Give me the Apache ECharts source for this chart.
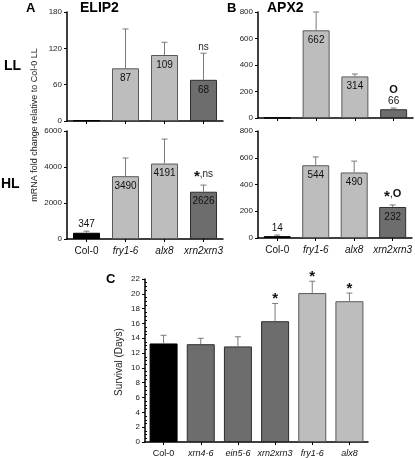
<!DOCTYPE html>
<html><head><meta charset="utf-8">
<script src="https://cdn.jsdelivr.net/npm/echarts@6/dist/echarts.min.js"></script>
<style>html,body{margin:0;padding:0;background:#fff}#c{width:415px;height:458px}</style>
</head><body><div id="c"></div>
<script>
// ---- data ----
const categoriesAB = ['Col-0', 'fry1-6', 'alx8', 'xrn2xrn3'];
const elip2LL = [1, 87, 109, 68];
const elip2LLsd = [0, 65, 21, 44];
const elip2LLnote = ['', '', '', 'ns'];
const elip2HL = [347, 3490, 4191, 2626];
const elip2HLsd = [90, 1010, 1360, 370];
const elip2HLnote = ['', '', '', '*,ns'];
const apx2LL = [1, 662, 314, 66];
const apx2LLsd = [0, 138, 18, 9];
const apx2LLnote = ['', '', '', 'O'];
const apx2HL = [14, 544, 490, 232];
const apx2HLsd = [8, 62, 85, 15];
const apx2HLnote = ['', '', '', '*,O'];
const categoriesC = ['Col-0', 'xrn4-6', 'ein5-6', 'xrn2xrn3', 'fry1-6', 'alx8'];
const survival = [13.3, 13.2, 12.9, 16.3, 20.1, 19.0];
const survivalSd = [1.1, 0.8, 1.3, 2.4, 1.6, 1.1];
const survivalNote = ['', '', '', '*', '*', '*'];
const ticksAL = [0, 180, 60], ticksAH = [0, 6000, 2000], ticksB = [0, 800, 200], ticksC = [0, 22, 2];

const BLACK = '#000', LIGHT = '#bdbdbd', DARK = '#6d6d6d';
const colorsAB = [BLACK, LIGHT, LIGHT, DARK];
const colorsC = [BLACK, DARK, DARK, DARK, LIGHT, LIGHT];
const borderFor = c => c === LIGHT ? '#5a5a5a' : (c === DARK ? '#2e2e2e' : '#000');
const FONT = 'Liberation Sans, Arial, sans-serif';

const grids = [
  {left: 67, top: 12, width: 156, height: 109},
  {left: 67, top: 131, width: 156, height: 108},
  {left: 258, top: 12, width: 155, height: 106},
  {left: 258, top: 131, width: 155, height: 107},
  {left: 145, top: 279, width: 223, height: 164}
];

function xAx(gi, cats, showLabels, fs) {
  return {
    type: 'category', gridIndex: gi, data: cats,
    axisLine: {lineStyle: {color: '#000', width: 1.5}},
    axisTick: {show: true, alignWithLabel: true, length: 3, lineStyle: {color: '#000'}},
    axisLabel: {
      show: showLabels, fontSize: fs, fontFamily: FONT, color: '#111', margin: 7, interval: 0,
      formatter: v => v === 'Col-0' ? '{n|' + v + '}' : '{i|' + v + '}',
      rich: {n: {fontSize: fs, fontFamily: FONT, color: '#111'},
             i: {fontSize: fs, fontFamily: FONT, color: '#111', fontStyle: 'italic'}}
    },
    splitLine: {show: false}
  };
}
function yAx(gi, t, fs, minor) {
  return {
    type: 'value', gridIndex: gi, min: t[0], max: t[1], interval: t[2],
    axisLine: {show: true, lineStyle: {color: '#000', width: 1.5}},
    axisTick: {show: true, length: 3, lineStyle: {color: '#000'}},
    minorTick: {show: !!minor, splitNumber: 4, length: -2, lineStyle: {color: '#000'}},
    axisLabel: {fontSize: fs, fontFamily: FONT, color: '#222', margin: 5, formatter: v => String(v)},
    splitLine: {show: false}
  };
}

function barSeries(gi, vals, colors, bw) {
  return {
    type: 'bar', xAxisIndex: gi, yAxisIndex: gi, barWidth: bw, silent: true,
    data: vals.map((v, i) => ({value: v, itemStyle: {color: colors[i], borderColor: borderFor(colors[i]), borderWidth: 1}})),
    z: 2
  };
}

function noteRich(note) {
  // star bold & larger, "O" bold, other text normal
  return note.split('').map(ch => ch === '*' ? '{s|*}' : (ch === 'O' ? '{o|O}' : '{t|' + ch + '}')).join('');
}

function errSeries(gi, vals, sds, notes, showVal) {
  return {
    type: 'custom', xAxisIndex: gi, yAxisIndex: gi, silent: true, z: 5,
    data: vals.map((v, i) => [i, v, v + sds[i]]),
    renderItem(params, api) {
      const i = params.dataIndex;
      const v = api.value(1);
      const p0 = api.coord([api.value(0), v]);
      const p1 = api.coord([api.value(0), api.value(2)]);
      const ch = [];
      if (sds[i] > 0) {
        ch.push({type: 'line', shape: {x1: p0[0], y1: p0[1], x2: p1[0], y2: p1[1]}, style: {stroke: '#7a7a7a', lineWidth: 1}});
        ch.push({type: 'line', shape: {x1: p1[0] - 3, y1: p1[1], x2: p1[0] + 3, y2: p1[1]}, style: {stroke: '#7a7a7a', lineWidth: 1}});
      }
      let topY = p1[1];
      if (showVal && !(showVal === 'LL' && i === 0)) {
        const barH = api.coord([0, 0])[1] - p0[1];
        const txt = String(v);
        if (barH > 22) {
          ch.push({type: 'text', style: {text: txt, x: p0[0], y: p0[1] + 5, textAlign: 'center', textVerticalAlign: 'top', fontSize: 10, fontFamily: FONT, fill: '#111'}});
        } else {
          const y = Math.min(p0[1], p1[1]) - 2;
          ch.push({type: 'text', style: {text: txt, x: p0[0], y: y, textAlign: 'center', textVerticalAlign: 'bottom', fontSize: 10, fontFamily: FONT, fill: '#111'}});
          topY = y - 10;
        }
      }
      if (notes[i]) {
        const onlyStar = notes[i] === '*';
        ch.push({type: 'text', style: {text: noteRich(notes[i]), x: p0[0], y: topY + (onlyStar ? 3 : -1), textAlign: 'center', textVerticalAlign: 'bottom',
          fontFamily: FONT, fill: '#111',
          rich: {s: {fontSize: 15, fontWeight: 'bold', fontFamily: FONT, fill: '#111', padding: [4, 0, 0, 0]},
                 o: {fontSize: 11, fontWeight: 'bold', fontFamily: FONT, fill: '#111'},
                 t: {fontSize: 10, fontFamily: FONT, fill: '#222'}}}});
      }
      return {type: 'group', children: ch};
    }
  };
}

const chart = echarts.init(document.getElementById('c'), null, {renderer: 'canvas'});
const T = (text, x, y, size) => ({type: 'text', left: x, top: y,
  style: {text: text, fontSize: size, fontWeight: 'bold', fontFamily: FONT, fill: '#000'}});

chart.setOption({
  animation: false,
  grid: grids,
  xAxis: [xAx(0, categoriesAB, false, 10), xAx(1, categoriesAB, true, 10), xAx(2, categoriesAB, false, 10), xAx(3, categoriesAB, true, 10), xAx(4, categoriesC, true, 9)],
  yAxis: [yAx(0, ticksAL, 8), yAx(1, ticksAH, 8), yAx(2, ticksB, 8), yAx(3, ticksB, 8), yAx(4, ticksC, 8, true)],
  series: [
    barSeries(0, elip2LL, colorsAB, 27), errSeries(0, elip2LL, elip2LLsd, elip2LLnote, 'LL'),
    barSeries(1, elip2HL, colorsAB, 27), errSeries(1, elip2HL, elip2HLsd, elip2HLnote, 'HL'),
    barSeries(2, apx2LL, colorsAB, 27), errSeries(2, apx2LL, apx2LLsd, apx2LLnote, 'LL'),
    barSeries(3, apx2HL, colorsAB, 27), errSeries(3, apx2HL, apx2HLsd, apx2HLnote, 'HL'),
    barSeries(4, survival, colorsC, 28), errSeries(4, survival, survivalSd, survivalNote, false)
  ],
  graphic: [
    T('A', 26, 2, 13), T('ELIP2', 80, 1, 14),
    T('B', 227, 2, 13), T('APX2', 267, 1, 14),
    T('LL', 4, 59, 14), T('HL', 1, 177, 14),
    T('C', 106, 273, 13),
    {type: 'text', x: 35, y: 125, rotation: Math.PI / 2,
      style: {text: 'mRNA fold change relative to Col-0 LL', fontSize: 9, fontFamily: FONT, fill: '#222', textAlign: 'center', textVerticalAlign: 'middle'}},
    {type: 'text', x: 119, y: 362, rotation: Math.PI / 2,
      style: {text: 'Survival (Days)', fontSize: 10, fontFamily: FONT, fill: '#222', textAlign: 'center', textVerticalAlign: 'middle'}}
  ]
});
</script></body></html>
